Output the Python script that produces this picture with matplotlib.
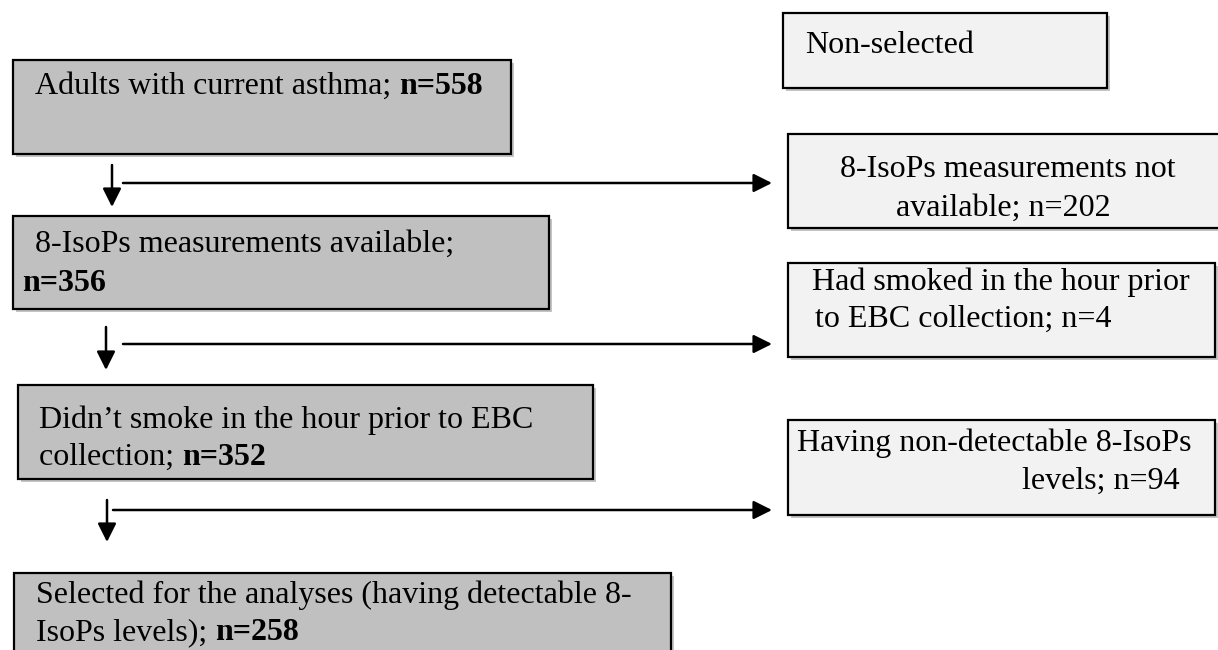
import matplotlib.pyplot as plt
from matplotlib.patches import Rectangle

plt.rcParams['font.family'] = ['Liberation Serif', 'DejaVu Serif']

# counts along the selection flow
n_kept = [558, 356, 352, 258]
n_excluded = [202, 4, 94]

# text of the boxes; the bold count goes at the end of the last line
kept_text = [
    ["Adults with current asthma; "],
    ["8-IsoPs measurements available;", ""],
    ["Didn\u2019t smoke in the hour prior to EBC", "collection; "],
    ["Selected for the analyses (having detectable 8-", "IsoPs levels); "],
]
excluded_text = [
    ["8-IsoPs measurements not", "available; n={}"],
    ["Had smoked in the hour prior", "to EBC collection; n={}"],
    ["Having non-detectable 8-IsoPs", "levels; n={}"],
]
header = "Non-selected"

fs = 23
fig = plt.figure(figsize=(12.18, 6.5), dpi=100)
ax = fig.add_axes([0, 0, 1, 1])
ax.set_xlim(0, 1218)
ax.set_ylim(650, 0)
ax.axis('off')
renderer = fig.canvas.get_renderer()


def box(x0, y0, x1, y1, fill):
    ax.add_patch(Rectangle((x0 + 3, y0 + 3), x1 - x0, y1 - y0,
                           facecolor='#c4c4c4', edgecolor='none', zorder=1))
    ax.add_patch(Rectangle((x0, y0), x1 - x0, y1 - y0, facecolor=fill,
                           edgecolor='black', lw=1.6, zorder=2))


def mixed(x, y, regular, bold):
    t = ax.text(x, y, regular, fontsize=fs, va='baseline', ha='left', zorder=3)
    if bold:
        bb = t.get_window_extent(renderer=renderer)
        x_end = ax.transData.inverted().transform((bb.x1, bb.y0))[0]
        if not regular:
            x_end = x
        ax.text(x_end, y, bold, fontsize=fs, va='baseline', ha='left',
                fontweight='bold', zorder=3)


# left column (kept)
left_boxes = [(13, 60, 511, 154), (13, 216, 549, 309), (18, 385, 593, 479), (14, 573, 671, 690)]
left_x = [[35], [35, 22], [39, 39], [36, 36]]
left_base = [[94], [252, 291], [428, 465], [603, 640]]
for i, (b, lines) in enumerate(zip(left_boxes, kept_text)):
    box(*b, '#c0c0c0')
    for j, line in enumerate(lines):
        bold = "n={}".format(n_kept[i]) if j == len(lines) - 1 else ""
        mixed(left_x[i][j], left_base[i][j], line, bold)

# right column (excluded)
box(783, 13, 1107, 88, '#f2f2f2')
ax.text(805, 53, header, fontsize=fs, va='baseline', ha='left', zorder=3)

right_boxes = [(788, 134, 1240, 228), (788, 263, 1215, 357), (788, 420, 1215, 515)]
right_pos = [[(1008, 'center'), (1003, 'center')],
             [(1001, 'center'), (815, 'left')],
             [(797, 'left'), (1022, 'left')]]
right_base = [[177, 216], [290, 327], [451, 489]]
for i, (b, lines) in enumerate(zip(right_boxes, excluded_text)):
    box(*b, '#f2f2f2')
    for j, line in enumerate(lines):
        x, ha = right_pos[i][j]
        ax.text(x, right_base[i][j], line.format(n_excluded[i]), fontsize=fs,
                va='baseline', ha=ha, zorder=3)

# arrows
down = [(112, 165, 207), (106, 327, 370), (107, 500, 542)]
side = [(123, 183), (123, 344), (113, 510)]
aprops = dict(arrowstyle='-|>,head_length=0.4,head_width=0.2', mutation_scale=28,
              lw=1.8, color='black', shrinkA=0, shrinkB=0)
for (x, y0, y1), (sx, sy) in zip(down, side):
    ax.annotate('', xy=(x, y1), xytext=(x, y0), arrowprops=aprops)
    ax.annotate('', xy=(772, sy), xytext=(sx, sy), arrowprops=aprops)

fig.savefig('out.png', dpi=100)
